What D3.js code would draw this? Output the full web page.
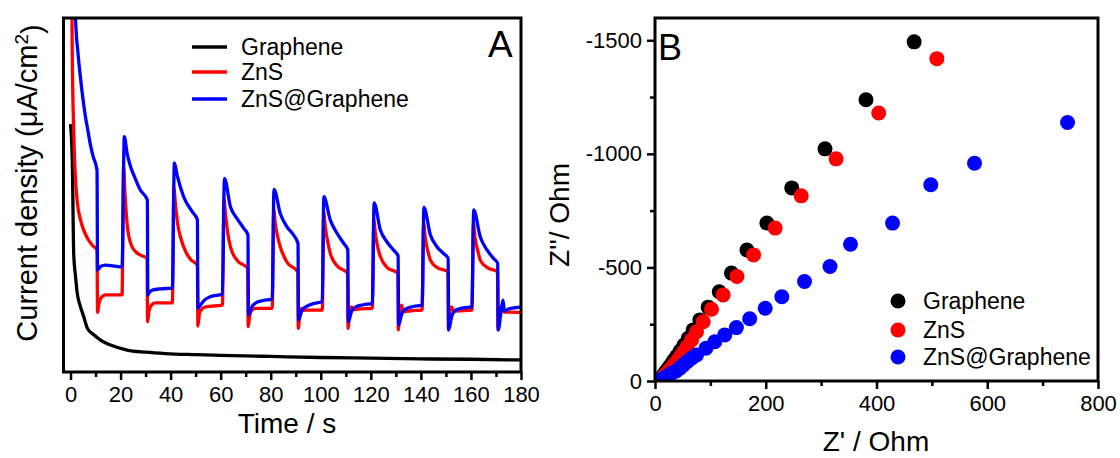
<!DOCTYPE html>
<html>
<head>
<meta charset="utf-8">
<script src="https://cdn.jsdelivr.net/npm/d3@7"></script>
<style>
body { margin: 0; background: #fff; }
text { font-family: "Liberation Sans", Arial, sans-serif; fill: #000; }
</style>
</head>
<body>
<div id="canvas"></div>
<script>
// ---- data ----
let seriesNames = ["Graphene", "ZnS", "ZnS@Graphene"];
let seriesColors = ["#000000", "#ff0000", "#0000ff"];

// panel A: current density (arb. units, no y ticks in the figure) vs time in s
let grapheneCurrent = [[0,70],[0.7,60],[1.3,33],[2,27],[2.7,22.2],[4,18.4],[5.3,15.6],[6.7,12.4],[9.3,10.5],[12,9],[16,7.6],[22.6,6.2],[30,5.6],[38,5.2],[50,4.9],[60,4.7],[80,4.4],[100,4.1],[120,3.9],[140,3.7],[160,3.6],[180,3.4]];

let znsCurrent = [[0.2,160],[0.4,120],[0.7,90],[1.2,70],[1.8,57],[2.7,48],[4,43],[5.3,40],[7,37.5],[8.7,35.8],[10.6,34.5],
  [10.8,16.8],[11.4,19.5],[12.5,21.2],[14,21.8],[20.6,21.8],
  [21.2,58],[21.8,50],[22.6,42],[24,36.4],[26,34],[28,33],[30.6,32.2],
  [30.8,14.2],[31.4,17.5],[32.5,19],[34,19.5],[40.7,19.5],
  [41.3,52],[41.9,47.6],[43,41],[43.9,38.2],[46,34],[48,31.8],[50.7,30.2],
  [50.9,13],[51.5,16.5],[52.5,17.8],[54,18.4],[60.7,18.9],
  [61.3,49],[61.9,44.8],[63,38.5],[63.9,35.4],[66.5,31.6],[70.8,29.3],
  [71,12.8],[71.6,16],[72.5,17.5],[74,18],[80.6,18],
  [81.2,46],[81.8,42],[83,37.5],[83.8,35.4],[86.5,31],[90.8,28.3],
  [91,12.3],[91.6,16.5],[92.3,18],[93,17.4],[95,17.5],[100.6,17.5],
  [101.2,45],[101.8,41],[103,36],[103.8,33.5],[106.5,30],[110.7,27.9],
  [110.9,12.3],[111.5,17],[112.3,18.4],[113,17.6],[115,17.8],[120.6,18],
  [121.2,43],[121.8,39.2],[123,34.5],[123.8,32.6],[126.5,29.5],[130.8,27.9],
  [131,11.9],[131.6,17.5],[132.3,18.9],[133,17],[136,17.3],[140.5,17.5],
  [141.1,42],[141.7,38.2],[143,33.5],[143.8,31.6],[146.5,29.5],[150.8,28.3],
  [151,11.9],[151.6,17.5],[152.3,18.4],[153,17.2],[156,17.3],[160.4,17.5],
  [161,42],[161.6,38.2],[163,33.5],[163.7,31.6],[166.5,29.5],[170.6,28.3],
  [170.8,11.9],[171.5,17.5],[172.3,18.5],[173,17],[176,16.9],[180,16.8]];

let compositeCurrent = [[0.9,150],[1.3,120],[2,100],[3,90],[4,83],[5,77],[6,72],[7,68],[8,64],[9,61],[10.6,57],
  [10.8,28.8],[12,29.8],[14,30.2],[17,30],[20.6,29.7],
  [21.5,66.5],[22.6,61.8],[24,58],[25.3,55.6],[27.9,51.4],[30.7,48.6],
  [30.9,21.8],[31.5,22.5],[33,23.2],[36,23.5],[40.7,23.7],
  [41.5,59.1],[42.6,55.6],[45.2,49.5],[48.6,45.3],[50.7,43],
  [50.9,18],[52,19],[53.5,20.3],[56,21.3],[60.7,22],
  [61.5,54.7],[63.9,46.7],[66.5,43.4],[69.2,40.6],[70.9,38.7],
  [71.1,16.1],[72.5,18.5],[74,19.5],[77,20.2],[80.6,20.6],
  [81.3,51.6],[83.8,44.8],[86.5,41],[89.1,38.7],[90.9,36.3],
  [91.1,14.7],[92.5,17.5],[94,18.4],[97,19.3],[100.6,19.9],
  [101.2,49.5],[103.8,42.9],[106.5,39.2],[109.1,36.4],[110.8,34.5],
  [111,14.2],[112.4,17.3],[114,18.4],[117,19],[120.6,19.4],
  [121.3,47.8],[123.8,40.1],[126.4,36.8],[129,34.5],[130.9,32.8],
  [131.1,13.3],[132.4,16.5],[134,17.8],[137,18.5],[140.5,18.9],
  [141.2,46.5],[143.8,38.7],[146.4,35.4],[149,33.5],[150.9,32.1],
  [151.1,11.9],[152.4,16],[154,17.5],[157,18.1],[160.4,18.4],
  [161.1,45.8],[163.7,38.2],[166.4,34.5],[169,32.1],[170.7,30.7],
  [170.9,11.9],[172,17],[172.8,20.3],[173.4,17.2],[175,17.8],[178,18.2],[180,18.4]];

let timeTicks = [0, 20, 40, 60, 80, 100, 120, 140, 160, 180];
let timeMinorTicks = [10, 30, 50, 70, 90, 110, 130, 150, 170];

// panel B: Nyquist plot, Z' and -Z'' in Ohm
let grapheneEIS = [[468,1493],[381,1238],[307,1022],[247,850],[202,695],[166,577],[138,475],[116,393],[96,325],[81,269],[69,225],[60,188],[52,157],[45,131],[39,109],[34,91],[30,76],[26,63],[23,52],[20,43],[18,35],[16,28],[14,22],[12,16],[10,11],[8,6],[6,2]];
let znsEIS = [[509,1419],[404,1180],[327,978],[264,815],[217,673],[178,555],[148,460],[123,379],[102,316],[87,261],[75,217],[66,181],[58,151],[51,126],[45,105],[40,88],[35,73],[31,60],[27,49],[24,40],[21,32],[18,25],[15,19],[13,13],[10,8],[8,4],[6,1]];
let compositeEIS = [[745,1138],[577,959],[498,864],[429,695],[353,602],[316,504],[270,438],[229,371],[199,320],[171,274],[147,235],[126,203],[108,173],[92,144],[75,115],[66,100],[58,85],[51,70],[45,56],[38,44],[30,34],[24,24],[18,15],[12,8],[7,3],[3,0]];

let zReTicks = [0, 200, 400, 600, 800];
let zReMinorTicks = [100, 300, 500, 700];
let zImTicks = [0, 500, 1000, 1500];
let zImMinorTicks = [250, 750, 1250];

// ---- drawing ----
let svg = d3.select("#canvas").append("svg")
    .attr("width", 1120)
    .attr("height", 458);

let defs = svg.append("defs");

function styleAxis(g) {
    g.select(".domain").remove();
    g.selectAll(".tick line").attr("stroke", "#000").attr("stroke-width", 2.5);
    g.selectAll(".tick text").style("font-size", "22px").attr("fill", "#000")
        .style("font-family", "'Liberation Sans', Arial, sans-serif");
}

// ===== Panel A =====
let boxA = {left: 63.5, right: 521, top: 18, bottom: 372};
let xA = d3.scaleLinear().domain([-2.8, 180]).range([boxA.left, boxA.right]);
let yA = d3.scaleLinear().domain([0, 100]).range([boxA.bottom, boxA.top]);

defs.append("clipPath").attr("id", "clipA").append("rect")
    .attr("x", boxA.left).attr("y", boxA.top)
    .attr("width", boxA.right - boxA.left).attr("height", boxA.bottom - boxA.top);

let lineA = d3.line()
    .x(d => xA(d[0]))
    .y(d => yA(d[1]))
    .curve(d3.curveMonotoneX);

let curves = [grapheneCurrent, znsCurrent, compositeCurrent];
let plotA = svg.append("g").attr("clip-path", "url(#clipA)");
curves.forEach(function(c, i) {
    plotA.append("path")
        .attr("d", lineA(c))
        .attr("fill", "none")
        .attr("stroke", seriesColors[i])
        .attr("stroke-width", 3.3)
        .attr("stroke-linejoin", "round");
});

svg.append("g")
    .attr("transform", "translate(0," + boxA.bottom + ")")
    .call(d3.axisBottom(xA).tickValues(timeTicks).tickSize(8).tickPadding(6))
    .call(styleAxis);
svg.append("g")
    .attr("transform", "translate(0," + boxA.bottom + ")")
    .call(d3.axisBottom(xA).tickValues(timeMinorTicks).tickSize(5).tickFormat(""))
    .call(styleAxis);

svg.append("rect")
    .attr("x", boxA.left).attr("y", boxA.top)
    .attr("width", boxA.right - boxA.left).attr("height", boxA.bottom - boxA.top)
    .attr("fill", "none").attr("stroke", "#000").attr("stroke-width", 3);

svg.append("text")
    .attr("x", 287).attr("y", 433)
    .attr("text-anchor", "middle")
    .style("font-size", "28px")
    .text("Time / s");

let yLabelA = svg.append("text")
    .attr("transform", "translate(37,183) rotate(-90)")
    .attr("text-anchor", "middle")
    .style("font-size", "29px");
yLabelA.append("tspan").text("Current density (\u03bcA/cm");
yLabelA.append("tspan").attr("dy", "-0.45em").style("font-size", "19px").text("2");
yLabelA.append("tspan").attr("dy", "0.45em").text(")");

svg.append("text")
    .attr("x", 488).attr("y", 57)
    .style("font-size", "37px")
    .text("A");

let legendA = svg.append("g");
seriesNames.forEach(function(name, i) {
    let y = [47, 72, 99][i];
    legendA.append("line")
        .attr("x1", 192).attr("x2", 227)
        .attr("y1", y).attr("y2", y)
        .attr("stroke", seriesColors[i])
        .attr("stroke-width", 3.5);
    legendA.append("text")
        .attr("x", 241).attr("y", y + 8)
        .style("font-size", "23px")
        .text(name);
});

// ===== Panel B =====
let boxB = {left: 655, right: 1098, top: 18, bottom: 381};
let xB = d3.scaleLinear().domain([0, 800]).range([boxB.left, boxB.right]);
let yB = d3.scaleLinear().domain([0, 1598]).range([boxB.bottom, boxB.top]);

defs.append("clipPath").attr("id", "clipB").append("rect")
    .attr("x", boxB.left).attr("y", boxB.top)
    .attr("width", boxB.right - boxB.left).attr("height", boxB.bottom - boxB.top);

let dotsB = svg.append("g").attr("clip-path", "url(#clipB)");
[grapheneEIS, znsEIS, compositeEIS].forEach(function(pts, i) {
    dotsB.selectAll("circle.s" + i)
        .data(pts)
        .enter().append("circle")
        .attr("class", "s" + i)
        .attr("cx", d => xB(d[0]))
        .attr("cy", d => yB(d[1]))
        .attr("r", 7.5)
        .attr("fill", seriesColors[i]);
});

svg.append("g")
    .attr("transform", "translate(0," + boxB.bottom + ")")
    .call(d3.axisBottom(xB).tickValues(zReTicks).tickSize(8).tickPadding(6))
    .call(styleAxis);
svg.append("g")
    .attr("transform", "translate(0," + boxB.bottom + ")")
    .call(d3.axisBottom(xB).tickValues(zReMinorTicks).tickSize(5).tickFormat(""))
    .call(styleAxis);
svg.append("g")
    .attr("transform", "translate(" + boxB.left + ",0)")
    .call(d3.axisLeft(yB).tickValues(zImTicks).tickSize(8).tickPadding(5)
        .tickFormat(d => d === 0 ? "0" : "-" + d))
    .call(styleAxis);
svg.append("g")
    .attr("transform", "translate(" + boxB.left + ",0)")
    .call(d3.axisLeft(yB).tickValues(zImMinorTicks).tickSize(5).tickFormat(""))
    .call(styleAxis);

svg.append("rect")
    .attr("x", boxB.left).attr("y", boxB.top)
    .attr("width", boxB.right - boxB.left).attr("height", boxB.bottom - boxB.top)
    .attr("fill", "none").attr("stroke", "#000").attr("stroke-width", 3);

svg.append("text")
    .attr("x", 876).attr("y", 451)
    .attr("text-anchor", "middle")
    .style("font-size", "28px")
    .text("Z' / Ohm");

svg.append("text")
    .attr("transform", "translate(569,215) rotate(-90)")
    .attr("text-anchor", "middle")
    .style("font-size", "28px")
    .text("Z''/ Ohm");

svg.append("text")
    .attr("x", 658).attr("y", 60)
    .style("font-size", "36px")
    .text("B");

let legendB = svg.append("g");
seriesNames.forEach(function(name, i) {
    let y = [301, 330, 357][i];
    legendB.append("circle")
        .attr("cx", 898).attr("cy", y)
        .attr("r", 7.5)
        .attr("fill", seriesColors[i]);
    legendB.append("text")
        .attr("x", 923).attr("y", y + 8)
        .style("font-size", "23px")
        .text(name);
});
</script>
</body>
</html>
